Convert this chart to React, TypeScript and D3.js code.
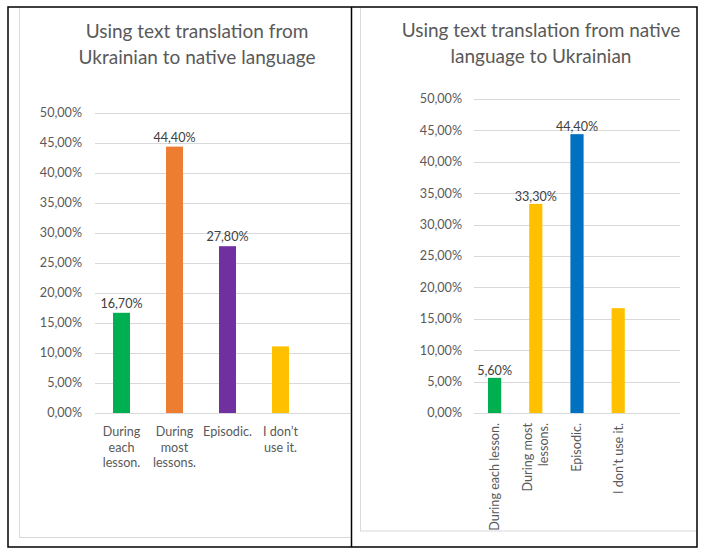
import * as d3 from "d3";

// ————— data —————
const leftTitle = ["Using text translation from", "Ukrainian to native language"];
const leftCategories = ["During each lesson.", "During most lessons.", "Episodic.", "I don’t use it."];
const leftLabelLines = [["During", "each", "lesson."], ["During", "most", "lessons."], ["Episodic."], ["I don’t", "use it."]];
const leftValues = [0.167, 0.444, 0.278, 0.111];
const leftShowLabel = [true, true, true, false];
const leftColors = ["#00B050", "#ED7D31", "#7030A0", "#FFC000"];

const rightTitle = ["Using text translation from native", "language to Ukrainian"];
const rightCategories = ["During each lesson.", "During most lessons.", "Episodic.", "I don’t use it."];
const rightLabelLines = [["During each lesson."], ["During most", "lessons."], ["Episodic."], ["I don’t use it."]];
const rightValues = [0.056, 0.333, 0.444, 0.167];
const rightShowLabel = [true, true, true, false];
const rightColors = ["#00B050", "#FFC000", "#0070C0", "#FFC000"];

const yTicks = [0, 0.05, 0.1, 0.15, 0.2, 0.25, 0.3, 0.35, 0.4, 0.45, 0.5];

const FONT = "Lato, 'Open Sans', sans-serif";
const TEXT = "#595959";
const GRID = "#D9D9D9";
const FS = 12.6;

const pct = (v: number) => (v * 100).toFixed(2).replace(".", ",") + "%";

type PanelProps = {
  id: string;
  clip: [number, number, number, number];
  box: [number, number, number, number];
  title: string[];
  titleX: number;
  titleY: number;
  categories: string[];
  labelLines: string[][];
  values: number[];
  showLabel: boolean[];
  colors: string[];
  plot: { left: number; right: number; top: number; bottom: number; slots: number };
  tickX: number;
  rotated: boolean;
  catY: number;
  labelGap: number;
};

const Panel = (p: PanelProps) => {
  const y = d3.scaleLinear().domain([0, 0.5]).range([p.plot.bottom, p.plot.top]);
  const slot = (p.plot.right - p.plot.left) / p.plot.slots;
  const x = d3
    .scaleBand<string>()
    .domain(p.categories)
    .range([p.plot.left, p.plot.left + slot * p.categories.length])
    .paddingInner(0.68)
    .paddingOuter(0.34);
  const [cx, cy, cw, ch] = p.clip;
  const [bx, by, bw, bh] = p.box;

  return (
    <g clipPath={`url(#${p.id})`}>
      <defs>
        <clipPath id={p.id}>
          <rect x={cx} y={cy} width={cw} height={ch} />
        </clipPath>
      </defs>
      <rect x={cx} y={cy} width={cw} height={ch} fill="#fff" />
      <rect x={bx} y={by} width={bw} height={bh} fill="#fff" stroke={GRID} strokeWidth={1} />

      {/* titulo */}
      <text x={p.titleX} y={p.titleY} textAnchor="middle" fill={TEXT} fontSize={19} fontFamily={FONT}>
        {p.title.map((t, i) => (
          <tspan key={i} x={p.titleX} dy={i === 0 ? 0 : 25.5}>
            {t}
          </tspan>
        ))}
      </text>

      {/* grid + ticks */}
      {yTicks.map((t) => (
        <g key={t}>
          <line x1={p.plot.left} x2={p.plot.right} y1={Math.round(y(t)) + 0.5} y2={Math.round(y(t)) + 0.5} stroke={GRID} />
          <text x={p.tickX} y={y(t)} dy="0.35em" textAnchor="end" fill={TEXT} fontSize={FS} fontFamily={FONT}>
            {pct(t)}
          </text>
        </g>
      ))}

      {/* barras */}
      {p.categories.map((c, i) => (
        <rect
          key={c}
          x={x(c)}
          y={y(p.values[i])}
          width={x.bandwidth()}
          height={y(0) - y(p.values[i])}
          fill={p.colors[i]}
        />
      ))}

      {/* etiquetas de datos */}
      {p.categories.map((c, i) =>
        p.showLabel[i] ? (
          <text
            key={c}
            x={x(c)! + x.bandwidth() / 2}
            y={y(p.values[i]) - p.labelGap}
            textAnchor="middle"
            fill="#404040"
            fontSize={FS}
            fontFamily={FONT}
          >
            {pct(p.values[i])}
          </text>
        ) : null
      )}

      {/* categorias */}
      {p.categories.map((c, i) => {
        const mid = x(c)! + x.bandwidth() / 2;
        const lines = p.labelLines[i];
        if (p.rotated) {
          return (
            <g key={c}>
              {lines.map((l, j) => (
                <text
                  key={j}
                  transform={`translate(${mid + (j - (lines.length - 1) / 2) * 16.5},${p.catY}) rotate(-90)`}
                  dy="0.35em"
                  textAnchor="end"
                  fill={TEXT}
                  fontSize={FS}
                  fontFamily={FONT}
                >
                  {l}
                </text>
              ))}
            </g>
          );
        }
        return (
          <text key={c} x={mid} y={p.catY} dy="0.35em" textAnchor="middle" fill={TEXT} fontSize={FS} fontFamily={FONT}>
            {lines.map((l, j) => (
              <tspan key={j} x={mid} dy={j === 0 ? "0.35em" : 15.5}>
                {l}
              </tspan>
            ))}
          </text>
        );
      })}
    </g>
  );
};

const App = () => {
  return (
    <svg
      width={708}
      height={555}
      style={{ position: "absolute", left: 0, top: 0, background: "#fff" }}
    >
      <rect x={0} y={0} width={708} height={555} fill="#fff" />
      <Panel
        id="clipL"
        clip={[8, 7, 344, 540]}
        box={[19.5, -10, 400, 547.5]}
        title={leftTitle}
        titleX={197}
        titleY={38}
        categories={leftCategories}
        labelLines={leftLabelLines}
        values={leftValues}
        showLabel={leftShowLabel}
        colors={leftColors}
        plot={{ left: 95, right: 360, top: 113, bottom: 413, slots: 5 }}
        tickX={82}
        rotated={false}
        catY={432}
        labelGap={5}
      />
      <Panel
        id="clipR"
        clip={[352, 7, 345, 540]}
        box={[360.5, -10, 340, 541]}
        title={rightTitle}
        titleX={541}
        titleY={37}
        categories={rightCategories}
        labelLines={rightLabelLines}
        values={rightValues}
        showLabel={rightShowLabel}
        colors={rightColors}
        plot={{ left: 474, right: 680, top: 99, bottom: 413, slots: 5 }}
        tickX={462}
        rotated={true}
        catY={423}
        labelGap={3}
      />
      {/* marco negro */}
      <rect x={8} y={7} width={689} height={540} fill="none" stroke="#000" strokeWidth={1.5} />
      <line x1={351.5} x2={351.5} y1={7} y2={547} stroke="#000" strokeWidth={1.5} />
    </svg>
  );
};

export default App;
